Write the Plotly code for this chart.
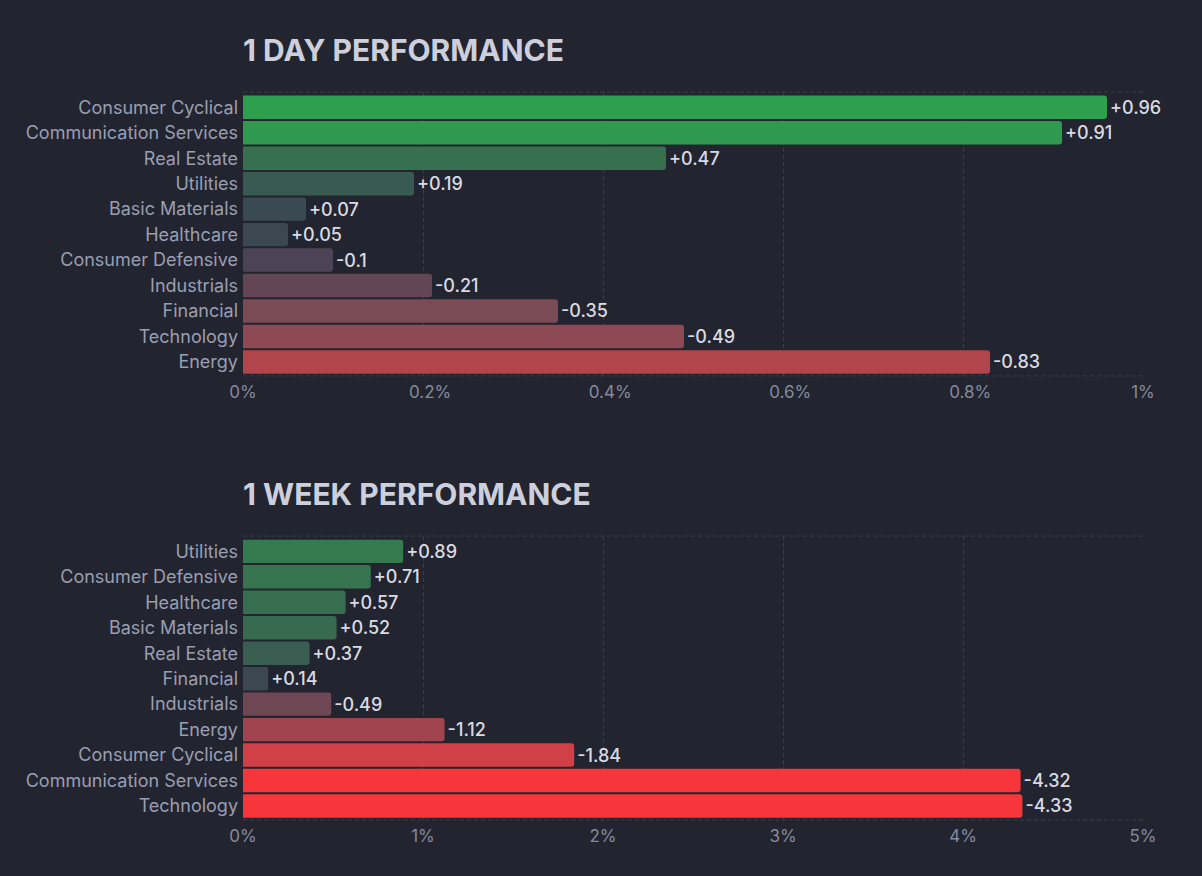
import plotly.graph_objects as go

# 1 day performance, % change by sector
day_sectors = ["Consumer Cyclical", "Communication Services", "Real Estate", "Utilities",
               "Basic Materials", "Healthcare", "Consumer Defensive", "Industrials",
               "Financial", "Technology", "Energy"]
day_change = [0.96, 0.91, 0.47, 0.19, 0.07, 0.05, -0.1, -0.21, -0.35, -0.49, -0.83]
day_colors = ["#2e9e4f", "#2f9a4f", "#36704f", "#395a50", "#3a4a52", "#3b4851",
              "#4c4356", "#634655", "#7a4a55", "#8e4a54", "#b0454c"]

# 1 week performance, % change by sector
week_sectors = ["Utilities", "Consumer Defensive", "Healthcare", "Basic Materials",
                "Real Estate", "Financial", "Industrials", "Energy", "Consumer Cyclical",
                "Communication Services", "Technology"]
week_change = [0.89, 0.71, 0.57, 0.52, 0.37, 0.14, -0.49, -1.12, -1.84, -4.32, -4.33]
week_colors = ["#367a50", "#36744f", "#376e4f", "#386a4f", "#395d50", "#3b4852",
               "#6e4654", "#a0454f", "#d04046", "#f6363a", "#f6363a"]

day_ticks = [0, 0.2, 0.4, 0.6, 0.8, 1]
day_ticktext = ["0%", "0.2%", "0.4%", "0.6%", "0.8%", "1%"]
week_ticks = [0, 1, 2, 3, 4, 5]
week_ticktext = ["0%", "1%", "2%", "3%", "4%", "5%"]

BG = "#22252f"
GRID = "#3a3e4b"
DASH = "4px,3px"
FONT = "Inter"
NBSP = "\u00a0"


def bar(sectors, changes, colors, xaxis, yaxis):
    return go.Bar(
        y=sectors, x=[abs(v) for v in changes], orientation="h",
        text=[f"{v:+g}" for v in changes], textposition="outside",
        textfont=dict(family=FONT, size=18, color="#d9dae2", weight=500),
        marker=dict(color=colors, cornerradius=3, line=dict(width=0)),
        cliponaxis=False, xaxis=xaxis, yaxis=yaxis, hoverinfo="skip")


fig = go.Figure()
fig.add_trace(bar(day_sectors, day_change, day_colors, "x", "y"))
fig.add_trace(bar(week_sectors, week_change, week_colors, "x2", "y2"))

# the decimal labels of the day axis sit a little right of their gridlines
day_labels = [t if t in ("0%", "1%") else NBSP * 3 + t for t in day_ticktext]

xcommon = dict(showgrid=True, gridcolor=GRID, griddash=DASH, gridwidth=1,
               zeroline=False, showline=False, ticks="", ticklabelstandoff=4,
               tickfont=dict(family=FONT, size=17, color="#858a9e"))
# categories top to bottom, with a little padding above the first bar
ycommon = dict(range=[10.55, -0.6], showgrid=False, zeroline=False, ticks="",
               ticklabelstandoff=4,
               tickfont=dict(family=FONT, size=18, color="#9a9eb2"))

fig.update_layout(
    width=1202, height=876,
    paper_bgcolor=BG, plot_bgcolor=BG,
    margin=dict(l=243, r=59, t=92, b=56),
    showlegend=False, bargap=0.08,
    xaxis=dict(xcommon, range=[0, 1], tickvals=day_ticks, ticktext=day_labels, anchor="y"),
    yaxis=dict(ycommon, domain=[0.61, 1], anchor="x"),
    xaxis2=dict(xcommon, range=[0, 5], tickvals=week_ticks, ticktext=week_ticktext, anchor="y2"),
    yaxis2=dict(ycommon, domain=[0, 0.39], anchor="x2"),
)

# dashed frame lines at top and bottom of each panel
for xr, yr in [("x", "y"), ("x2", "y2")]:
    for yv in [0, 1]:
        fig.add_shape(type="line", xref=f"{xr} domain", yref=f"{yr} domain",
                      x0=0, x1=1, y0=yv, y1=yv,
                      line=dict(color=GRID, width=1, dash=DASH), layer="below")

for title, xr, yr in [("1 DAY PERFORMANCE", "x", "y"), ("1 WEEK PERFORMANCE", "x2", "y2")]:
    fig.add_annotation(text="<b>" + title + "</b>", xref=f"{xr} domain",
                       yref=f"{yr} domain", x=0, y=1, xanchor="left", yanchor="bottom",
                       yshift=22, xshift=-2, showarrow=False,
                       font=dict(family=FONT, size=30, color="#cdd0dc"))

# no page margin so the figure sits flush with the window
fig.write_html("out.html", config={"displayModeBar": False},
               post_script="document.body.style.margin='0';"
                           "document.body.style.background='" + BG + "';")
